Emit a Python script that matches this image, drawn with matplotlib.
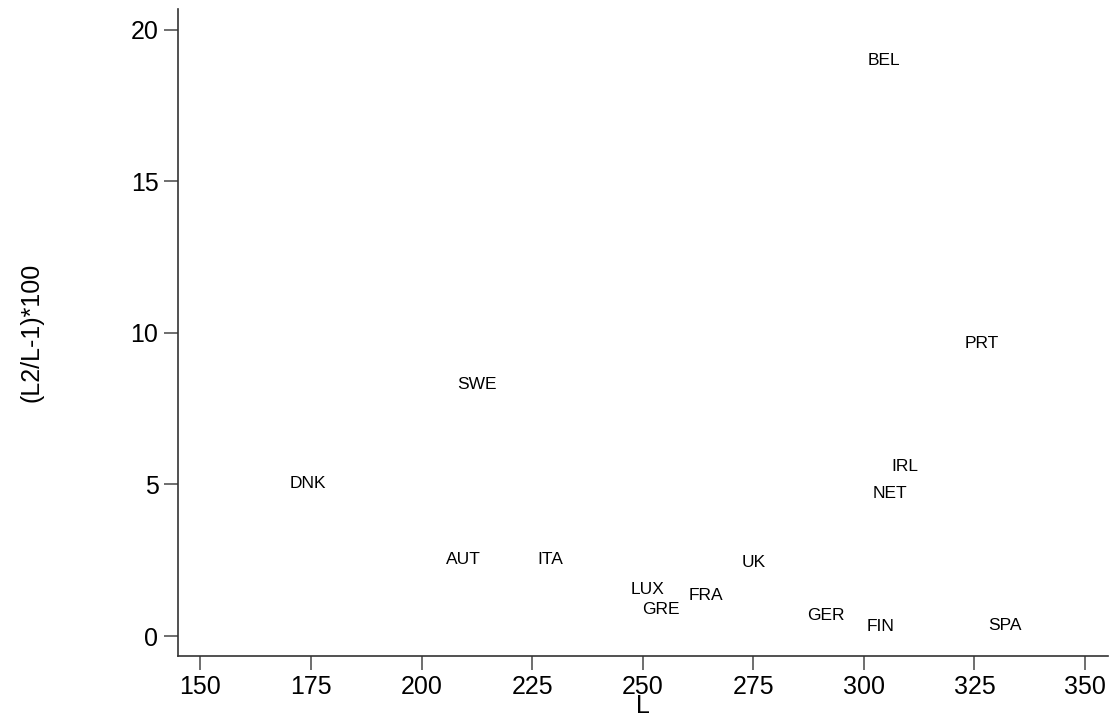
import matplotlib
matplotlib.use("Agg")
import matplotlib.pyplot as plt

plt.rcParams['font.family'] = ['Liberation Sans', 'DejaVu Sans']

countries = ["BEL", "PRT", "SWE", "DNK", "IRL", "NET", "AUT", "ITA", "UK",
             "LUX", "FRA", "GRE", "GER", "FIN", "SPA"]
L = [304.5, 326.6, 212.5, 174.3, 309.2, 305.8, 209.5, 229.2, 275.1,
     251.1, 264.4, 254.1, 291.4, 303.8, 331.8]
ratio = [18.99, 9.66, 8.31, 5.04, 5.60, 4.71, 2.54, 2.54, 2.41,
         1.52, 1.35, 0.86, 0.69, 0.33, 0.36]

xticks = [150, 175, 200, 225, 250, 275, 300, 325, 350]
yticks = [0, 5, 10, 15, 20]

fig = plt.figure(figsize=(11.12, 7.17), dpi=100)
ax = fig.add_axes([0.160, 0.085, 0.836, 0.903])

for name, x, y in zip(countries, L, ratio):
    ax.text(x, y, name, ha='center', va='center', fontsize=12.5, color='black')

ax.set_xlim(144.9, 355.1)
ax.set_ylim(-0.66, 20.69)
ax.set_xticks(xticks)
ax.set_yticks(yticks)
ax.spines['top'].set_visible(False)
ax.spines['right'].set_visible(False)
for s in ('left', 'bottom'):
    ax.spines[s].set_color('#333333')
    ax.spines[s].set_linewidth(1.2)
ax.tick_params(direction='out', length=10, width=1.2, color='#555555',
               labelsize=18, pad=4)

ax.set_xlabel("L", fontsize=18, labelpad=-4)
ax.set_ylabel("(L2/L-1)*100", fontsize=18, labelpad=63)

fig.savefig("out.png", dpi=100)
